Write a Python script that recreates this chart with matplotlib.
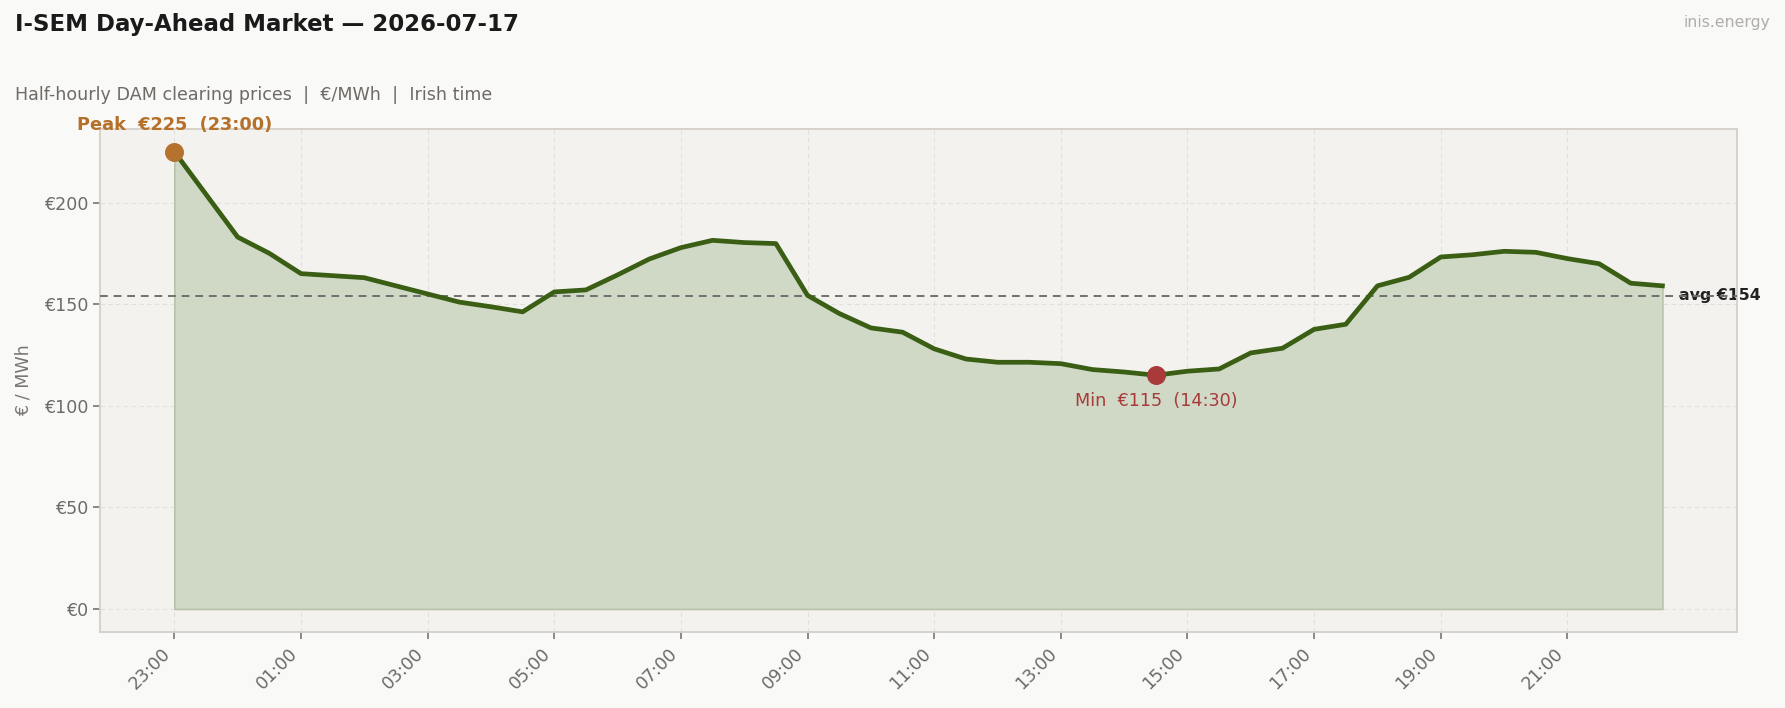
import matplotlib
matplotlib.use("Agg")
import matplotlib.pyplot as plt
import numpy as np

# ---- data ----
time_labels = ["23:00", "01:00", "03:00", "05:00", "07:00", "09:00",
               "11:00", "13:00", "15:00", "17:00", "19:00", "21:00"]
prices = [225, 204, 183, 175, 165, 164, 163, 159, 155, 151,
          148.7, 146.2, 156, 157, 164.4, 172.2, 177.8, 181.4, 180.3, 179.8,
          154.3, 145.4, 138.3, 136.2, 128, 123, 121.4, 121.4, 120.7, 117.8,
          116.6, 115, 117, 118.1, 126, 128.3, 137.6, 140.1, 159, 163.2,
          173.2, 174.3, 176, 175.5, 172.4, 169.9, 160.3, 159]
y_ticks = [0, 50, 100, 150, 200]

prices = np.array(prices)
x = np.arange(len(prices))
avg = prices.mean()
imax = int(np.argmax(prices))
imin = int(np.argmin(prices))

def slot_label(i):
    mins = 23 * 60 + 30 * i
    h = (mins // 60) % 24
    m = mins % 60
    return f"{h:02d}:{m:02d}"

fig = plt.figure(figsize=(17.85, 7.08), dpi=100, facecolor="#f9f9f7")
ax = fig.add_axes([0.056, 0.1076, 0.917, 0.7104])
ax.set_facecolor("#f3f2ef")

ax.fill_between(x, 0, prices, facecolor="#d0d8c6", edgecolor="#b8c4a8", linewidth=1.2, zorder=2)
ax.plot(x, prices, color="#3a5e14", linewidth=3.4, zorder=4, solid_joinstyle="round")
ax.axhline(avg, color="#707070", linestyle=(0, (4, 3)), linewidth=1.4, zorder=3)

ax.scatter([x[imax]], [prices[imax]], s=160, color="#b5712e", zorder=5)
ax.scatter([x[imin]], [prices[imin]], s=160, color="#a83a3a", zorder=5)

ax.annotate(f"Peak  €{prices[imax]:.0f}  ({slot_label(imax)})",
            xy=(x[imax], prices[imax]), xytext=(-70, 19), textcoords="offset points",
            fontsize=12.8, fontweight="bold", color="#b5702a", ha="left", va="center",
            annotation_clip=False)
ax.annotate(f"Min  €{prices[imin]:.0f}  ({slot_label(imin)})",
            xy=(x[imin], prices[imin]), xytext=(0, -18.5), textcoords="offset points",
            fontsize=12.7, color="#a83a3a", ha="center", va="center")
ax.annotate(f"avg €{avg:.0f}", xy=(len(prices) - 1, avg), xytext=(12, 0),
            textcoords="offset points", fontsize=11.3, fontweight="bold",
            color="#222222", ha="left", va="center", annotation_clip=False, zorder=2)

ax.set_xticks(x[::4])
ax.set_xticklabels(time_labels, rotation=45, ha="right")
ax.set_yticks(y_ticks)
ax.set_yticklabels([f"€{v}" for v in y_ticks])
ax.tick_params(axis="both", colors="#7a7470", labelsize=12.6, length=5, width=1.2)
ax.tick_params(axis="y", labelcolor="#6b6b6b")
ax.tick_params(axis="x", labelcolor="#6b6b6b", pad=4)
ax.margins(x=0.05, y=0.05)
ax.set_ylim(bottom=-11.25)

ax.grid(True, color="#e2e0db", linestyle=(0, (4, 3)), linewidth=0.8, zorder=0)
ax.set_axisbelow(True)
for s in ax.spines.values():
    s.set_color("#d4d0c8")
    s.set_linewidth(1.3)

ax.set_ylabel("€ / MWh", fontsize=12.6, color="#7a7470", labelpad=8)

fig.text(15 / 1785, 1 - 25 / 708, "I-SEM Day-Ahead Market — 2026-07-17",
         fontsize=16.5, fontweight="bold", color="#1a1a1a", ha="left", va="center")
fig.text(15 / 1785, 1 - 95 / 708, "Half-hourly DAM clearing prices  |  €/MWh  |  Irish time",
         fontsize=12.65, color="#6f6a66", ha="left", va="center")
fig.text(1770 / 1785, 1 - 22 / 708, "inis.energy", fontsize=11.3, color="#b0adaa",
         ha="right", va="center")

fig.savefig("out.png", dpi=100, facecolor=fig.get_facecolor())
